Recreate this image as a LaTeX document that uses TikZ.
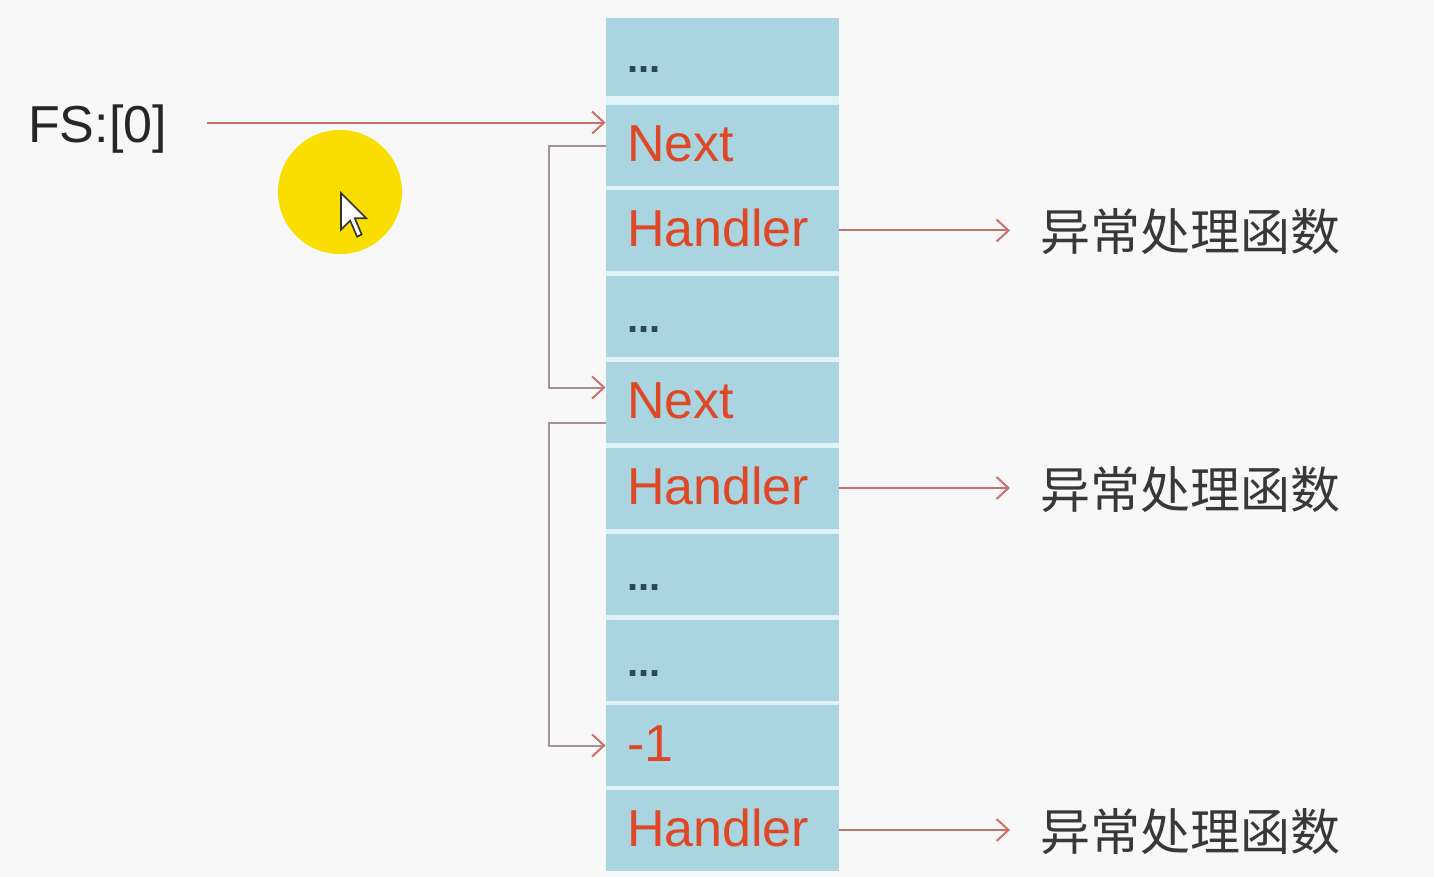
\documentclass[tikz,border=0pt]{standalone}
\usepackage{fontspec}
\setmainfont{Liberation Sans}
\newfontfamily\cjk{Noto Sans CJK SC}
\usepackage{tikz}
\usetikzlibrary{arrows.meta}

\definecolor{bgcol}{RGB}{248,248,248}
\definecolor{cellblue}{RGB}{170,212,224}
\definecolor{gapblue}{RGB}{224,243,248}
\definecolor{textred}{RGB}{222,72,38}
\definecolor{dotblue}{RGB}{45,70,87}
\definecolor{linkred}{RGB}{205,112,106}
\definecolor{linkgray}{RGB}{165,145,145}
\definecolor{hiyellow}{RGB}{250,222,0}

\tikzset{
  cell/.style={fill=cellblue, minimum width=116.5pt, minimum height=40.5pt,
    inner xsep=10.5pt, inner ysep=0pt, text width=95.5pt, align=left,
    text height=16pt, text depth=0pt, font=\fontsize{26}{26}\selectfont, text=textred},
  dots/.style={cell, font=\fontsize{20}{20}\selectfont\bfseries, text=dotblue},
  func/.style={font=\cjk\fontsize{25}{25}\selectfont, text=black!78, anchor=west, inner sep=0pt},
  link/.style={draw=linkred, line width=1pt, -{Straight Barb[length=6pt, width=11pt]}},
  chain/.style={draw=linkgray, line width=1pt, -{Straight Barb[length=6pt, width=11pt, color=linkred]}}
}

\begin{document}
\begin{tikzpicture}[x=0.5pt, y=-0.5pt]

% Page
\useasboundingbox (0,0) rectangle (1434,877);
\fill[bgcol] (0,0) rectangle (1434,877);

% Pointer highlight
\fill[hiyellow] (340,192) circle (31pt);
\draw[fill=white, draw=black!80, line width=0.8pt, shift={(341,193)}, scale=2.3]
  (0,0) -- (0,16) -- (4,12) -- (7,19) -- (9,18) -- (6,11) -- (11,11) -- cycle;

% Stack column
\fill[gapblue] (606,18) rectangle (839,870);
\node[dots, minimum height=39pt] (c1) at (722.5,57) {...};   % top
\node[cell] (c2) at (722.5,146) {Next};                      % first record
\node[cell] (c3) at (722.5,230.5) {Handler};
\node[dots] (c4) at (722.5,316.5) {...};
\node[cell] (c5) at (722.5,402.5) {Next};                    % second record
\node[cell] (c6) at (722.5,488) {Handler};
\node[dots] (c7) at (722.5,574.5) {...};
\node[dots] (c8) at (722.5,660.5) {...};
\node[cell] (c9) at (722.5,745.5) {-1};                      % last record
\node[cell] (c10) at (722.5,830) {Handler};

% Labels
\node[anchor=base, font=\fontsize{26}{26}\selectfont, text=black!85] (fs) at (97.5,143) {FS:[0]};
\node[func] (f1) at (1040,232) {异常处理函数};
\node[func] (f2) at (1040,490) {异常处理函数};
\node[func] (f3) at (1040,832) {异常处理函数};

% Pointers
\draw[link] ([xshift=16.5pt, yshift=3.5pt]fs.east) -- ([yshift=3.5pt]fs.east -| c2.west); % FS:[0] -> Next
\draw[chain] (c2.west) -- ++(-57,0) |- ([yshift=7.5pt]c5.west);  % Next -> Next
\draw[chain] ([yshift=-10pt]c5.west) -- ++(-57,0) |- (c9.west);  % Next -> -1
\draw[link, shorten >=15pt] (c3.east) -- (c3.east -| f1.west);    % Handler
\draw[link, shorten >=15pt] (c6.east) -- (c6.east -| f2.west);    % Handler
\draw[link, shorten >=15pt] (c10.east) -- (c10.east -| f3.west);  % Handler

\end{tikzpicture}
\end{document}
